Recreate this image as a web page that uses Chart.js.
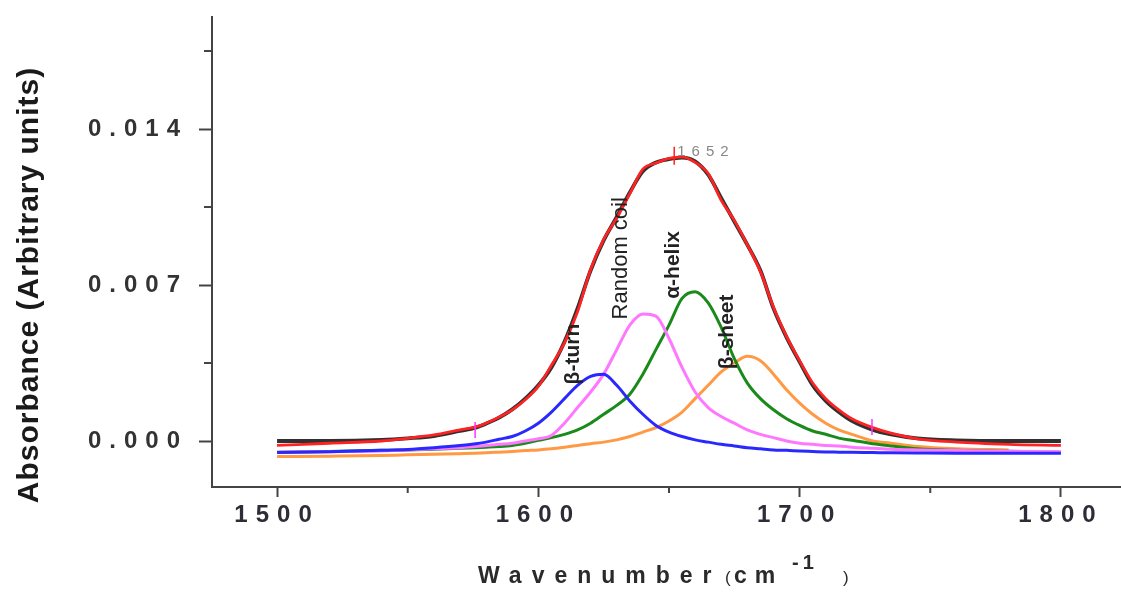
<!DOCTYPE html>
<html><head><meta charset="utf-8">
<script src="https://cdn.jsdelivr.net/npm/chart.js@4/dist/chart.umd.min.js"></script>
<style>html,body{margin:0;padding:0;background:#fff;}#wrap{width:1121px;height:596px;position:relative;}</style>
</head><body><div id="wrap"><canvas id="c" width="1121" height="596"></canvas></div>
<script>
const wavenumbers = [1500,1520,1540,1550,1560,1570,1576,1580,1585,1590,1595,1600,1605,1610,1615,1620,1625,1630,1635,1640,1645,1650,1655,1660,1665,1670,1675,1680,1685,1690,1695,1700,1705,1710,1715,1720,1728,1735,1745,1760,1780,1800];
const measured = [0.0000,0.0000,0.00005,0.00012,0.00022,0.00045,0.0006,0.00078,0.00105,0.00142,0.0019,0.0025,0.0033,0.00445,0.00595,0.00765,0.009,0.01005,0.01115,0.0121,0.0125,0.01265,0.01272,0.01255,0.01195,0.0109,0.00985,0.0088,0.00765,0.00595,0.00465,0.00355,0.0025,0.0018,0.0013,0.0009,0.0005,0.0003,0.00012,0.00003,0.0000,0.0000];
const fitted = [-0.0002,-0.0001,0.0000,0.00012,0.00027,0.0005,0.00063,0.0008,0.00108,0.0014,0.00185,0.00245,0.0034,0.0044,0.0058,0.0077,0.00905,0.01,0.0111,0.0122,0.01247,0.01268,0.01275,0.0125,0.012,0.0108,0.0099,0.0088,0.0076,0.006,0.0047,0.0036,0.0026,0.0019,0.0014,0.001,0.0006,0.00035,0.0001,-0.00005,-0.00015,-0.0002];
const betaTurn = [-0.00052,-0.00048,-0.00042,-0.00038,-0.0003,-0.0002,-0.00012,-0.00005,0.00008,0.0002,0.00045,0.0008,0.0013,0.0019,0.0025,0.0029,0.003,0.0025,0.0018,0.0012,0.0007,0.0004,0.0002,0.00005,-0.00005,-0.00015,-0.00022,-0.0003,-0.00035,-0.0004,-0.00042,-0.00045,-0.00047,-0.00049,-0.0005,-0.00051,-0.00052,-0.00053,-0.00054,-0.00055,-0.00055,-0.00055];
const randomCoil = [-0.0005,-0.00048,-0.00045,-0.0004,-0.00035,-0.0003,-0.00025,-0.0002,-0.00015,-0.0001,0.0000,0.0001,0.00025,0.0008,0.0015,0.0022,0.003,0.0041,0.0052,0.0057,0.0056,0.0046,0.0033,0.0022,0.0015,0.0011,0.0008,0.0005,0.0003,0.00015,0.0000,-0.0001,-0.00015,-0.0002,-0.00022,-0.00028,-0.00033,-0.00037,-0.0004,-0.00043,-0.00046,-0.00048];
const alphaHelix = [-0.0005,-0.00047,-0.00042,-0.0004,-0.00037,-0.00032,-0.0003,-0.00028,-0.00025,-0.0002,-0.0001,0.00003,0.00015,0.0003,0.0005,0.0008,0.0012,0.0016,0.0021,0.003,0.0041,0.0052,0.0064,0.0067,0.0062,0.0051,0.0037,0.0026,0.0019,0.0014,0.001,0.0007,0.00045,0.0003,0.00013,0.00003,-0.00012,-0.00022,-0.00035,-0.00042,-0.00046,-0.0005];
const betaSheet = [-0.0007,-0.00068,-0.00065,-0.00062,-0.0006,-0.00057,-0.00055,-0.00053,-0.0005,-0.00047,-0.00043,-0.0004,-0.00035,-0.00028,-0.0002,-0.00012,-0.00005,0.00005,0.0002,0.0004,0.0006,0.0009,0.0013,0.0019,0.0025,0.0031,0.0035,0.0038,0.0036,0.003,0.0023,0.0017,0.0012,0.0008,0.0005,0.0003,0.0000,-0.0001,-0.00025,-0.00035,-0.0004,null];
const xTicks = [1500,1600,1700,1800];
const xMinorTicks = [1550,1650,1750];
const yTicks = [0,0.007,0.014];
const yMinorTicks = [0.0035,0.0105,0.0175];
const bandLabels = ['β-turn','Random coil','α-helix','β-sheet'];
const bandLabelX = [1613.3,1631.6,1651.5,1672.2];
const bandLabelY = [0.0039,0.0082,0.0079,0.0049];
const peakPosition = 1652, peakValue = 0.01275, peakLabel = '1652';
const markerX = [1575.8,1727.7];
const markerY = [0.00049,0.00063];
const yTitle = 'Absorbance (Arbitrary units)';

const toPts = arr => wavenumbers.map((w,i)=>({x:w,y:arr[i]}));
const ds = (label,arr,color,w,order)=>({label,data:toPts(arr),borderColor:color,borderWidth:w,pointRadius:0,fill:false,cubicInterpolationMode:'monotone',order,spanGaps:false});

const spacingPlugin = {id:'spacing',
  beforeDraw(c){ c.ctx.letterSpacing='8px'; },
  beforeDatasetsDraw(c){ c.ctx.letterSpacing='0px'; }
};
const FONT='"Liberation Sans", Arial, sans-serif';
const extras = {id:'extras',
  afterDraw(c){
    const ctx=c.ctx, xs=c.scales.x, ys=c.scales.y, ca=c.chartArea;
    ctx.save();
    ctx.letterSpacing='0px';
    ctx.strokeStyle='#444'; ctx.lineWidth=2;
    xMinorTicks.forEach(v=>{const p=xs.getPixelForValue(v);ctx.beginPath();ctx.moveTo(p,ca.bottom);ctx.lineTo(p,ca.bottom+6);ctx.stroke();});
    yMinorTicks.forEach(v=>{const p=ys.getPixelForValue(v);ctx.beginPath();ctx.moveTo(ca.left,p);ctx.lineTo(ca.left-8,p);ctx.stroke();});
    ctx.strokeStyle='#ff33ff'; ctx.lineWidth=1.5;
    markerX.forEach((m,i)=>{const px=xs.getPixelForValue(m),py=ys.getPixelForValue(markerY[i]);ctx.beginPath();ctx.moveTo(px,py-8);ctx.lineTo(px,py+8);ctx.stroke();});
    const pkx=xs.getPixelForValue(peakPosition), pky=ys.getPixelForValue(peakValue);
    ctx.strokeStyle='#ff2020'; ctx.beginPath(); ctx.moveTo(pkx,pky-10); ctx.lineTo(pkx,pky+8); ctx.stroke();
    ctx.fillStyle='#888'; ctx.font='15px '+FONT; ctx.letterSpacing='6px';
    ctx.textAlign='left'; ctx.textBaseline='alphabetic'; ctx.fillText(peakLabel,pkx+3,pky-1);
    ctx.letterSpacing='0px';
    ctx.fillStyle='#222';
    bandLabels.forEach((t,i)=>{
      const px=xs.getPixelForValue(bandLabelX[i]), py=ys.getPixelForValue(bandLabelY[i]);
      ctx.save(); ctx.translate(px,py); ctx.rotate(-Math.PI/2);
      ctx.font=(i===1?'22px ':'bold 21px ')+FONT;
      ctx.textAlign='center'; ctx.textBaseline='middle'; ctx.fillText(t,0,0); ctx.restore();
    });
    ctx.save(); ctx.translate(30,285); ctx.rotate(-Math.PI/2);
    ctx.font='bold 30px '+FONT; ctx.letterSpacing='1px';
    ctx.fillStyle='#1a1a1a'; ctx.textAlign='center'; ctx.textBaseline='middle'; ctx.fillText(yTitle,0,0); ctx.restore();
    ctx.fillStyle='#2a2a2a'; ctx.textAlign='left'; ctx.textBaseline='alphabetic';
    const base=583;
    const seg=(t,x,font,sp,dy)=>{ctx.font=font;ctx.letterSpacing=sp+'px';ctx.fillText(t,x,base+(dy||0));};
    seg('Wavenumber',478,'bold 23px '+FONT,10);
    seg('(',725,'17px '+FONT,0);
    seg('cm',734,'bold 23px '+FONT,8);
    seg('-1',792,'bold 20px '+FONT,4,-14);
    seg(')',843,'17px '+FONT,0);
    ctx.restore();
  }
};

const tickFont={family:FONT,size:24,weight:'bold'};
new Chart(document.getElementById('c'),{
  type:'line',
  data:{datasets:[
    ds('Measured',measured,'#303030',3.8,10),
    ds('Fit',fitted,'#ff2222',2.8,9),
    ds('β-sheet',betaSheet,'#ff9944',3,5),
    ds('α-helix',alphaHelix,'#1a8a1a',3,4),
    ds('Random coil',randomCoil,'#ff77ff',3,3),
    ds('β-turn',betaTurn,'#2828ff',3,2)
  ]},
  options:{
    responsive:false, animation:false, devicePixelRatio:1,
    layout:{padding:{top:17,left:0,right:0,bottom:0}},
    plugins:{legend:{display:false},tooltip:{enabled:false}},
    scales:{
      x:{type:'linear',min:1475.1,max:1823,
        afterBuildTicks:s=>{s.ticks=xTicks.map(v=>({value:v}));},
        afterFit:s=>{s.height=109;s.paddingLeft=0;s.paddingRight=0;},
        ticks:{font:tickFont,color:'#2d2d38',padding:4,maxRotation:0,callback:v=>String(v)},
        grid:{display:true,drawOnChartArea:false,drawTicks:true,tickLength:10,tickColor:'#444',tickWidth:2},
        border:{display:true,color:'#444',width:2}},
      y:{type:'linear',min:-0.002064,max:0.019026,
        afterBuildTicks:s=>{s.ticks=yTicks.map(v=>({value:v}));},
        afterFit:s=>{s.width=212;s.paddingTop=0;s.paddingBottom=0;},
        ticks:{font:tickFont,color:'#333',padding:11,callback:v=>Number(v).toFixed(3)},
        grid:{display:true,drawOnChartArea:false,drawTicks:true,tickLength:13,tickColor:'#444',tickWidth:2},
        border:{display:true,color:'#444',width:2}}
    }
  },
  plugins:[spacingPlugin,extras]
});
</script></body></html>
